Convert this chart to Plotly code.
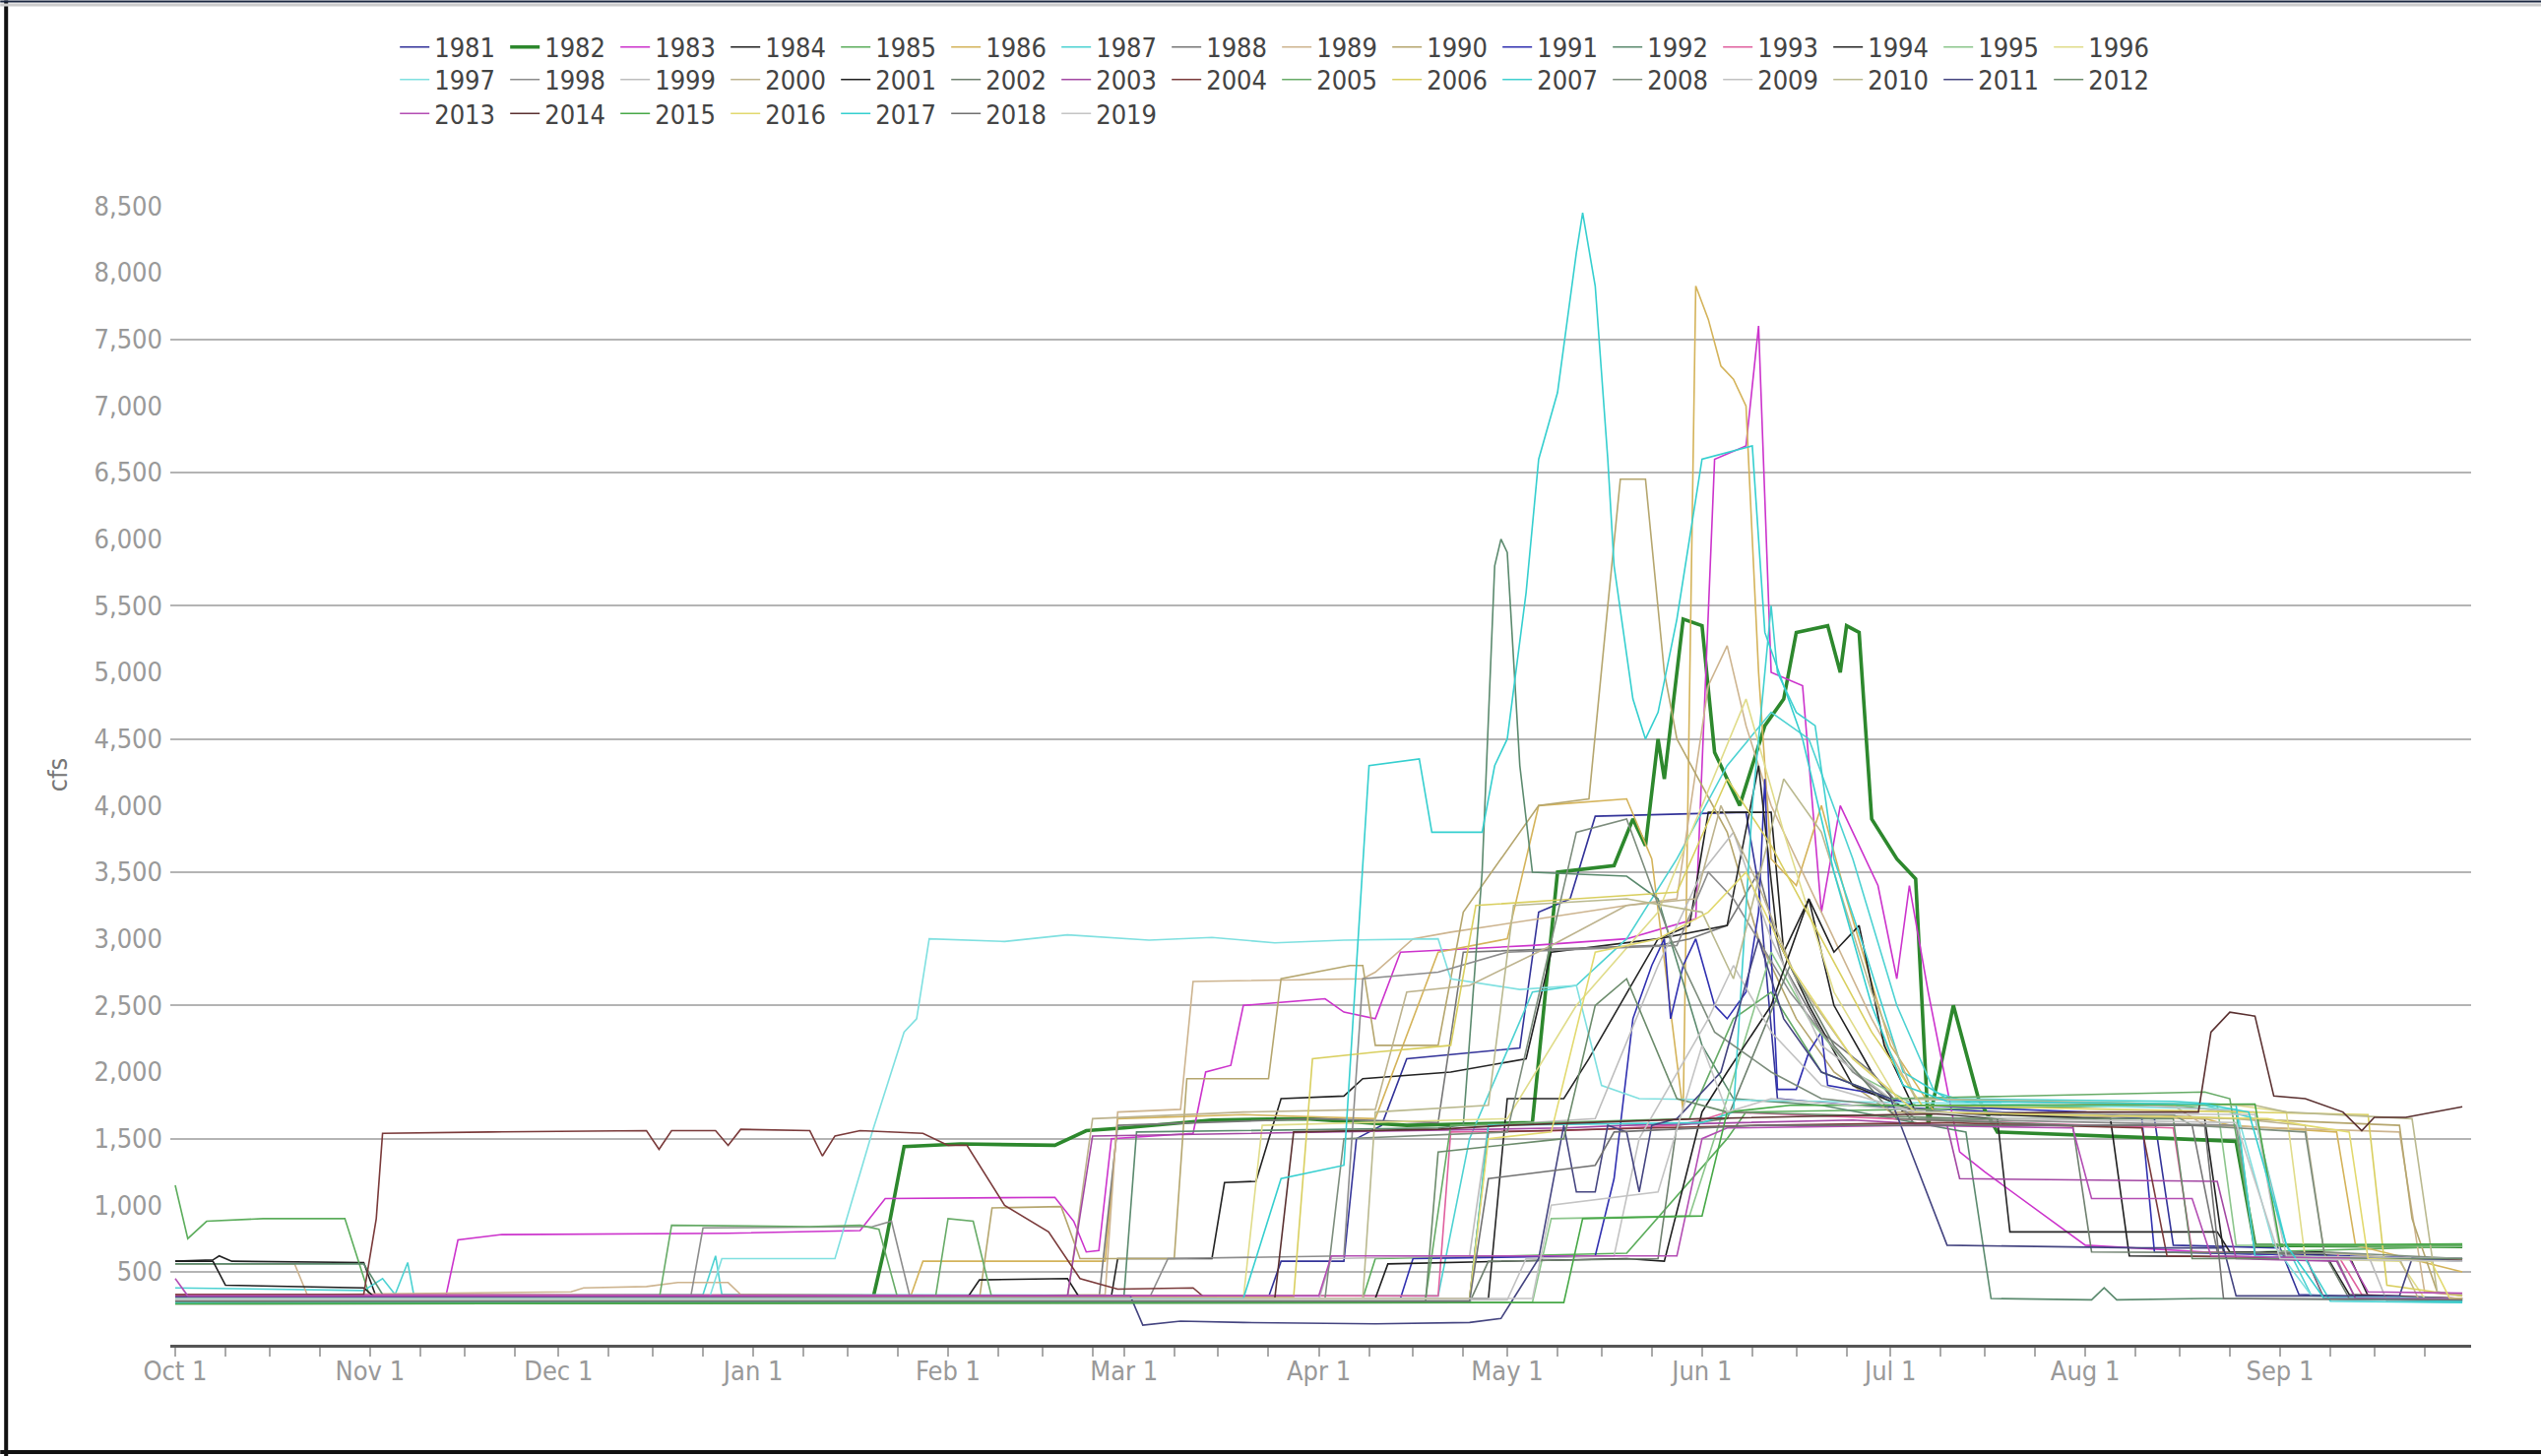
import plotly.graph_objects as go

# ---------------- data (date "MM-DD" within water year Oct..Sep, cfs) ----------------
YEARS = [str(y) for y in range(1981, 2020)]

s1981 = [("10-01",300),("03-24",310),("03-26",580),("04-05",580),("04-07",1500),("04-11",1600),("04-15",2100),("05-03",2180),("05-06",3200),("05-11",3300),("05-15",3920),("06-08",3950),("06-10",3400),("06-13",1800),("06-25",1750),("07-20",1700),("08-12",1650),("08-15",700),("09-01",680),("09-04",330),("09-30",290)]
s1982 = [("10-01",290),("01-20",290),("01-22",700),("01-25",1440),("02-03",1460),("02-18",1450),("02-23",1560),("03-01",1580),("03-15",1640),("03-30",1650),("04-15",1600),("05-05",1620),("05-09",3500),("05-18",3550),("05-21",3900),("05-23",3700),("05-25",4500),("05-26",4200),("05-29",5400),("06-01",5350),("06-03",4400),("06-07",4000),("06-11",4600),("06-14",4800),("06-16",5300),("06-21",5350),("06-23",5000),("06-24",5350),("06-26",5300),("06-28",3900),("07-02",3600),("07-05",3450),("07-07",1600),("07-11",2500),("07-15",1800),("07-18",1550),("08-15",1500),("08-25",1480),("08-28",700),("09-30",690)]
s1983 = [("10-01",310),("11-13",300),("11-15",740),("11-22",780),("12-28",790),("01-18",810),("01-22",1050),("02-18",1060),("02-21",880),("02-23",650),("02-25",660),("02-27",1500),("03-12",1540),("03-14",2000),("03-18",2050),("03-20",2500),("04-02",2550),("04-05",2450),("04-10",2400),("04-14",2900),("05-05",2950),("05-20",3000),("05-31",3150),("06-03",6600),("06-08",6700),("06-10",7600),("06-12",5000),("06-17",4900),("06-20",3200),("06-23",4000),("06-26",3700),("06-29",3400),("07-02",2700),("07-04",3400),("07-07",2600),("07-12",1400),("07-16",1250),("08-01",700),("08-20",650),("09-05",620),("09-08",300),("09-30",300)]
s1984 = [("10-01",580),("10-07",590),("10-08",620),("10-10",580),("10-31",570),("11-02",310),("02-27",320),("02-28",600),("03-15",600),("03-17",1170),("03-22",1180),("03-26",1800),("04-05",1820),("04-08",1950),("04-22",2000),("05-04",2100),("05-08",2900),("05-25",3000),("05-30",3100),("06-02",3950),("06-12",3950),("06-14",2900),("06-18",3300),("06-22",2500),("06-28",2000),("07-03",1700),("08-01",1680),("08-20",1650),("08-23",650),("09-12",620),("09-15",320),("09-30",300)]
s1985 = [("10-01",1150),("10-03",750),("10-06",880),("10-15",900),("10-28",900),("11-01",310),("04-08",300),("04-10",600),("05-01",620),("05-20",640),("06-05",1500),("06-08",1700),("08-15",1750),("08-25",1700),("08-28",650),("09-30",690)]
s1986 = [("10-01",300),("01-26",310),("01-28",580),("02-26",580),("02-28",1650),("03-20",1680),("04-10",1650),("04-20",2900),("05-01",3000),("05-06",4000),("05-20",4050),("05-24",3600),("05-29",1700),("05-31",7900),("06-02",7650),("06-04",7300),("06-06",7200),("06-08",7000),("06-10",5000),("06-12",3600),("06-16",3400),("06-20",4000),("06-24",3300),("07-01",2200),("07-08",1700),("08-20",1650),("08-24",1600),("09-10",1550),("09-13",700),("09-30",500)]
s1987 = [("10-01",380),("10-20",370),("10-31",360),("11-03",450),("11-05",330),("11-07",570),("11-08",320),("12-24",330),("12-26",620),("12-27",330),("04-20",320),("04-25",1500),("05-05",2600),("05-12",2650),("05-20",3000),("05-28",3600),("06-05",4300),("06-12",4700),("06-18",4500),("06-25",3600),("07-02",2500),("07-08",1850),("07-15",1750),("08-20",1750),("08-28",1650),("09-02",700),("09-06",320),("09-30",290)]
s1988 = [("10-01",280),("02-25",290),("02-28",1600),("04-01",1650),("04-20",1620),("04-24",2900),("05-25",2950),("05-30",3000),("06-05",3100),("06-10",3500),("06-14",2800),("06-20",2300),("06-28",2000),("07-05",1600),("08-18",1600),("08-22",650),("09-05",620),("09-08",300),("09-30",280)]
s1989 = [("10-01",560),("10-20",560),("10-22",330),("12-03",350),("12-05",380),("12-15",390),("12-20",420),("12-28",420),("12-30",330),("02-10",320),("02-26",330),("02-28",1700),("03-10",1720),("03-12",2680),("04-08",2700),("04-10",2750),("04-16",3000),("04-22",3050),("05-20",3250),("05-28",3300),("06-02",4900),("06-05",5200),("06-08",4600),("06-12",4000),("06-20",3200),("06-28",2400),("07-05",1800),("08-15",1750),("08-20",1600),("09-20",1550),("09-24",350),("09-30",320)]
s1990 = [("10-01",300),("02-06",300),("02-08",980),("02-19",990),("02-22",600),("03-09",600),("03-11",1950),("03-24",1950),("03-26",2700),("04-06",2800),("04-08",2800),("04-10",2200),("04-20",2200),("04-24",3200),("05-06",4000),("05-14",4050),("05-17",5500),("05-19",6450),("05-23",6450),("05-26",5000),("05-28",4500),("06-05",3800),("06-10",3000),("06-16",2400),("06-22",2000),("07-01",1700),("08-10",1680),("08-25",1650),("09-20",1600),("09-22",900),("09-26",350),("09-30",320)]
s1991 = [("10-01",300),("04-14",300),("04-16",600),("05-15",620),("05-18",1200),("05-21",2400),("05-24",2800),("05-26",3000),("05-27",2400),("05-29",2800),("05-31",3000),("06-03",2500),("06-05",2400),("06-08",2600),("06-10",3200),("06-11",4200),("06-12",2900),("06-13",1870),("06-16",1870),("06-18",2150),("06-20",2300),("06-21",1900),("06-27",1850),("07-05",1750),("08-01",1700),("08-10",1650),("08-12",650),("09-30",600)]
s1992 = [("10-01",560),("10-31",560),("11-03",330),("03-01",320),("03-03",1550),("04-20",1580),("04-24",1600),("04-27",3500),("04-29",5800),("04-30",6000),("05-01",5900),("05-03",4300),("05-05",3500),("05-20",3470),("05-25",3300),("06-01",2200),("06-06",1800),("06-20",1750),("07-13",1550),("07-17",300),("08-02",290),("08-04",380),("08-06",290),("08-20",300),("09-30",290)]
s1993 = [("10-01",330),("04-20",320),("04-22",1550),("05-10",1560),("05-20",1580),("05-28",1600),("06-01",1640),("06-05",1700),("07-01",1650),("08-01",1600),("08-15",1580),("08-18",650),("09-10",640),("09-14",330),("09-30",300)]
s1994 = [("10-01",300),("04-28",300),("05-01",1800),("05-10",1800),("05-14",2100),("05-25",3000),("06-05",3100),("06-10",4300),("06-13",3000),("06-18",2500),("06-25",1900),("07-05",1700),("07-18",1650),("07-20",800),("08-22",800),("08-24",650),("09-08",650),("09-12",330),("09-30",300)]
s1995 = [("10-01",270),("05-05",270),("05-08",900),("05-30",920),("06-05",1800),("06-12",2900),("06-18",2400),("06-25",2000),("07-05",1750),("08-22",1750),("08-25",700),("09-30",690)]
s1996 = [("10-01",290),("03-20",300),("03-23",1600),("05-01",1650),("05-12",2500),("05-25",3200),("06-08",4800),("06-14",3800),("06-22",2600),("07-02",1800),("08-25",1750),("09-02",1700),("09-05",600),("09-20",580),("09-24",300),("09-30",290)]
s1997 = [("10-01",300),("12-25",300),("12-27",600),("01-14",600),("01-20",1560),("01-25",2300),("01-27",2400),("01-29",3000),("02-10",2980),("02-20",3030),("03-05",2990),("03-15",3010),("03-25",2970),("04-05",2990),("04-20",3000),("04-22",2700),("05-03",2620),("05-12",2650),("05-16",1900),("05-22",1800),("06-20",1780),("07-20",1760),("08-25",1720),("08-31",700),("09-06",320),("09-30",300)]
s1998 = [("10-01",290),("12-22",300),("12-24",830),("01-20",840),("01-23",880),("01-26",300),("03-05",300),("03-08",600),("04-05",620),("04-08",2700),("04-20",2750),("05-01",2900),("05-28",2950),("06-02",3500),("06-06",3300),("06-15",2600),("06-25",2000),("07-05",1650),("08-25",1600),("08-28",650),("09-10",600),("09-13",300),("09-30",280)]
s1999 = [("10-01",280),("04-01",290),("04-03",600),("04-25",620),("04-28",1600),("05-15",1650),("05-25",2800),("06-01",3500),("06-06",3800),("06-12",3000),("06-20",2200),("07-01",1800),("08-10",1750),("08-28",1700),("09-01",650),("09-15",630),("09-18",280),("09-30",270)]
s2000 = [("10-01",300),("02-20",300),("02-24",1650),("03-20",1700),("04-10",1720),("04-15",2600),("04-25",2650),("05-08",2950),("05-20",3250),("05-31",3300),("06-04",4000),("06-10",3400),("06-16",2700),("06-25",2100),("07-05",1700),("08-25",1650),("09-05",1600),("09-08",650),("09-20",600),("09-23",300),("09-30",290)]
s2001 = [("10-01",580),("10-07",580),("10-09",400),("10-31",380),("11-02",300),("02-04",300),("02-06",440),("02-20",450),("02-22",300),("04-10",300),("04-12",560),("05-20",600),("05-26",580),("06-01",1700),("06-05",2000),("06-12",2500),("06-18",3300),("06-22",2900),("06-26",3100),("06-30",2200),("07-05",1700),("08-05",1650),("08-08",620),("09-30",600)]
s2002 = [("10-01",260),("04-25",270),("04-28",580),("05-25",600),("05-28",1600),("06-05",1650),("06-15",2800),("06-22",2200),("07-02",1650),("07-30",1600),("08-02",650),("09-08",640),("09-12",300),("09-30",280)]
s2003 = [("10-01",320),("02-20",320),("02-24",1520),("04-15",1560),("05-10",1580),("05-20",1600),("06-05",1620),("06-25",1640),("07-10",1600),("07-12",1200),("08-22",1180),("08-25",600),("09-10",580),("09-13",300),("09-30",300)]
s2004 = [("10-01",330),("10-31",330),("11-02",900),("11-03",1540),("11-20",1550),("12-15",1560),("12-17",1420),("12-19",1560),("12-26",1560),("12-28",1450),("12-30",1570),("01-10",1560),("01-12",1370),("01-14",1520),("01-18",1560),("01-28",1540),("02-01",1450),("02-04",1450),("02-10",1000),("02-17",800),("02-22",450),("02-28",370),("03-12",380),("03-14",300),("04-25",300),("04-28",1550),("06-10",1600),("07-10",1620),("08-10",1580),("08-14",620),("09-30",590)]
s2005 = [("10-01",280),("12-17",290),("12-19",850),("01-10",840),("01-18",850),("01-21",820),("01-24",300),("01-30",310),("02-01",900),("02-05",880),("02-08",300),("04-18",300),("04-22",1600),("05-30",1650),("06-06",2400),("06-12",2600),("06-20",2000),("07-01",1800),("08-20",1850),("08-24",1800),("08-28",700),("09-30",700)]
s2006 = [("10-01",300),("03-28",310),("03-31",2100),("04-10",2150),("04-22",2200),("04-26",3250),("05-12",3300),("05-28",3350),("06-05",4200),("06-12",3700),("06-20",3000),("06-28",2300),("07-06",1750),("08-25",1700),("09-15",1680),("09-18",400),("09-30",320)]
s2007 = [("10-01",270),("04-25",280),("04-28",1600),("06-01",1620),("06-06",1700),("06-09",4000),("06-12",5500),("06-13",5000),("06-16",4700),("06-19",4600),("06-22",3600),("06-27",2900),("07-03",2000),("07-10",1800),("08-15",1780),("08-25",1750),("08-28",620),("09-05",600),("09-09",280),("09-30",270)]
s2008 = [("10-01",300),("04-02",300),("04-05",1500),("05-01",1550),("05-12",3800),("05-20",3900),("05-27",3000),("06-03",2300),("06-12",2000),("06-20",1800),("07-10",1700),("08-15",1680),("08-18",1600),("09-05",1550),("09-08",650),("09-30",600)]
s2009 = [("10-01",290),("05-01",290),("05-04",600),("05-18",620),("05-22",1500),("06-02",2400),("06-06",2800),("06-12",2300),("06-20",1900),("07-05",1700),("08-28",1680),("09-02",620),("09-30",600)]
s2010 = [("10-01",300),("04-08",300),("04-10",1700),("04-28",1750),("05-02",3250),("05-20",3300),("06-01",3200),("06-06",2700),("06-14",4200),("06-20",3800),("06-28",2600),("07-05",1800),("08-28",1750),("09-02",1700),("09-22",1650),("09-26",350),("09-30",330)]
s2011 = [("10-01",310),("03-02",320),("03-04",100),("03-10",130),("03-20",120),("04-10",110),("04-25",120),("04-30",150),("05-02",300),("05-06",600),("05-10",1600),("05-12",1100),("05-15",1100),("05-17",1600),("05-20",1550),("05-22",1100),("05-24",1600),("05-28",1650),("06-04",2000),("06-10",3000),("06-14",2400),("06-20",2000),("07-01",1800),("07-10",700),("08-10",680),("08-23",680),("08-25",320),("09-20",320),("09-22",600),("09-30",580)]
s2012 = [("10-01",280),("04-18",280),("04-20",1400),("05-10",1500),("05-15",2500),("05-20",2700),("05-28",1800),("06-05",1700),("07-15",1650),("08-15",1650),("08-18",600),("09-30",600)]
s2013 = [("10-01",450),("10-03",320),("04-01",320),("04-03",620),("05-28",620),("06-01",1500),("06-05",1580),("07-05",1600),("07-30",1580),("08-02",1050),("08-18",1050),("08-21",620),("09-12",600),("09-15",350),("09-30",340)]
s2014 = [("10-01",300),("03-25",300),("03-28",1550),("04-20",1570),("05-01",1600),("06-01",1650),("07-01",1680),("08-01",1700),("08-19",1700),("08-21",2300),("08-24",2450),("08-28",2420),("08-31",1820),("09-05",1800),("09-11",1700),("09-14",1560),("09-16",1660),("09-21",1660),("09-30",1740)]
s2015 = [("10-01",260),("05-10",270),("05-13",900),("06-01",920),("06-05",1700),("06-15",1750),("07-15",1750),("08-28",1760),("09-01",700),("09-30",710)]
s2016 = [("10-01",300),("04-25",300),("04-28",1500),("05-08",1550),("05-15",2900),("05-25",3000),("06-02",3200),("06-08",3500),("06-15",2800),("06-25",2100),("07-05",1700),("08-30",1650),("09-05",1600),("09-12",1550),("09-15",600),("09-25",580),("09-28",300),("09-30",300)]
s2017 = [("10-01",300),("03-20",300),("03-26",1200),("04-05",1300),("04-09",4300),("04-17",4350),("04-19",3800),("04-27",3800),("04-29",4300),("05-01",4500),("05-04",5600),("05-06",6600),("05-09",7100),("05-12",8150),("05-13",8450),("05-15",7900),("05-17",6600),("05-18",5800),("05-21",4800),("05-23",4500),("05-25",4700),("05-28",5400),("05-30",6000),("06-01",6600),("06-09",6700),("06-11",5300),("06-14",4900),("06-17",4500),("06-22",3500),("06-28",2500),("07-03",1900),("07-10",1780),("08-20",1760),("08-27",1700),("09-02",700),("09-08",300),("09-30",280)]
s2018 = [("10-01",280),("04-25",280),("04-28",1200),("05-15",1300),("05-18",1550),("06-10",1600),("07-15",1600),("08-20",1600),("08-23",300),("09-30",290)]
s2019 = [("10-01",300),("05-05",300),("05-08",1000),("05-25",1100),("06-01",2200),("06-05",1700),("06-12",1800),("07-20",1650),("08-25",1620),("09-01",600),("09-30",580)]

SERIES = [s1981, s1982, s1983, s1984, s1985, s1986, s1987, s1988, s1989, s1990,
          s1991, s1992, s1993, s1994, s1995, s1996, s1997, s1998, s1999, s2000,
          s2001, s2002, s2003, s2004, s2005, s2006, s2007, s2008, s2009, s2010,
          s2011, s2012, s2013, s2014, s2015, s2016, s2017, s2018, s2019]

COLORS = ['#333399', '#2d882d', '#cc33cc', '#222222', '#5cad5c', '#d4b35a', '#4dd2d2', '#777777',
          '#cdb48f', '#b5a66e', '#3030b0', '#5b8a6e', '#e0609f', '#262626', '#8cc68c', '#e0dc8a',
          '#7fe0e0', '#8c8c8c', '#bdbdbd', '#bdb38e', '#1f1f1f', '#6f806f', '#a347a3', '#7a3a3a',
          '#67ab67', '#d9cf5f', '#3fd0d0', '#7d8d7d', '#c2c2c2', '#bab98f', '#444480', '#6b8b6b',
          '#b34db3', '#5a3030', '#47a847', '#e2d96e', '#35cfcf', '#717171', '#c4c4c4']

MONTH_TICKS = ["2018-10-01", "2018-11-01", "2018-12-01", "2019-01-01", "2019-02-01", "2019-03-01",
               "2019-04-01", "2019-05-01", "2019-06-01", "2019-07-01", "2019-08-01", "2019-09-01"]
MONTH_LABELS = ["Oct 1", "Nov 1", "Dec 1", "Jan 1", "Feb 1", "Mar 1",
                "Apr 1", "May 1", "Jun 1", "Jul 1", "Aug 1", "Sep 1"]
Y_TICKS = list(range(500, 9000, 500))
GRID_TICKS = list(range(500, 8000, 1000))


def to_date(md):
    m = int(md[:2])
    return ("2018-" if m >= 10 else "2019-") + md


# ---------------- geometry (pixels) ----------------
W, H = 2581, 1479
L, R = 172.8, 71
T, B = 207.6, 113
PW = W - L - R
PH = H - T - B


def px_x(X):
    return (X - L) / PW


def px_y(Y):
    return (H - B - Y) / PH


FONT = "DejaVu Sans Condensed, DejaVu Sans, sans-serif"

fig = go.Figure()
for i, (yr, pts, col) in enumerate(zip(YEARS, SERIES, COLORS)):
    leg = "legend" if i < 16 else ("legend2" if i < 32 else "legend3")
    fig.add_trace(go.Scatter(
        x=[to_date(p[0]) for p in pts], y=[p[1] for p in pts],
        mode="lines", name=yr, legend=leg,
        line=dict(color=col, width=3.6 if yr == "1982" else 1.6),
    ))

# invisible trace to carry the grid axis
fig.add_trace(go.Scatter(x=[], y=[], yaxis="y2", showlegend=False, hoverinfo="skip"))

minor_vals = []
for mt in MONTH_TICKS:
    for d in ("09", "16", "24"):
        minor_vals.append(mt[:8] + d)

legend_common = dict(orientation="h", xanchor="left", yanchor="middle",
                     font=dict(family=FONT, size=27, color="#444444"),
                     bgcolor="rgba(0,0,0,0)", entrywidth=67, entrywidthmode="pixels",
                     itemclick=False, itemdoubleclick=False, tracegroupgap=0)

fig.update_layout(
    width=W, height=H,
    margin=dict(l=L, r=R, t=T, b=B, pad=0, autoexpand=False),
    paper_bgcolor="white", plot_bgcolor="white",
    font=dict(family=FONT, size=27, color="#999999"),
    showlegend=True,
    legend=dict(x=px_x(401), y=px_y(47.7), **legend_common),
    legend2=dict(x=px_x(401), y=px_y(80.7), **legend_common),
    legend3=dict(x=px_x(401), y=px_y(115.2), **legend_common),
    xaxis=dict(
        type="date",
        range=["2018-09-30 05:17", "2019-10-01 09:36"],
        tickmode="array", tickvals=MONTH_TICKS, ticktext=MONTH_LABELS,
        ticks="outside", ticklen=9, tickwidth=1.5, tickcolor="#aaaaaa",
        ticklabelstandoff=-8,
        minor=dict(tickmode="array", tickvals=minor_vals, ticks="outside", ticklen=9,
                   tickwidth=1.5, tickcolor="#aaaaaa", showgrid=False),
        showgrid=False, zeroline=False,
        showline=True, linecolor="#555555", linewidth=2.5,
        tickfont=dict(family=FONT, size=27, color="#999999"),
        fixedrange=True,
    ),
    yaxis=dict(
        range=[-47, 8510],
        tickmode="array", tickvals=Y_TICKS, tickformat=",d",
        ticks="", showgrid=False, zeroline=False, showline=False,
        ticklabelstandoff=7,
        tickfont=dict(family=FONT, size=27, color="#999999"),
        title=dict(text="cfs", standoff=19, font=dict(family=FONT, size=27, color="#777777")),
        fixedrange=True,
    ),
    yaxis2=dict(
        range=[-47, 8510], overlaying="y", side="left",
        tickmode="array", tickvals=GRID_TICKS, showticklabels=False,
        ticks="", showgrid=True, gridcolor="#b4b4b4", gridwidth=2,
        zeroline=False, showline=False, fixedrange=True,
    ),
    hovermode=False,
)

# outer frame lines of the screenshot
frame = [
    dict(x0=px_x(6), x1=px_x(6), y0=px_y(0), y1=px_y(H), color="#111111", w=4),
    dict(x0=px_x(0), x1=px_x(W), y0=px_y(1475), y1=px_y(1475), color="#111111", w=4),
    dict(x0=px_x(0), x1=px_x(W), y0=px_y(1), y1=px_y(1), color="#1a2740", w=2),
    dict(x0=px_x(0), x1=px_x(W), y0=px_y(4.5), y1=px_y(4.5), color="#cccccc", w=3),
]
for f in frame:
    fig.add_shape(type="line", xref="paper", yref="paper",
                  x0=f["x0"], x1=f["x1"], y0=f["y0"], y1=f["y1"],
                  line=dict(color=f["color"], width=f["w"]), layer="above")

fig.write_html("out.html", config={"displayModeBar": False},
               post_script="document.body.style.margin='0';document.body.style.overflow='hidden';")
